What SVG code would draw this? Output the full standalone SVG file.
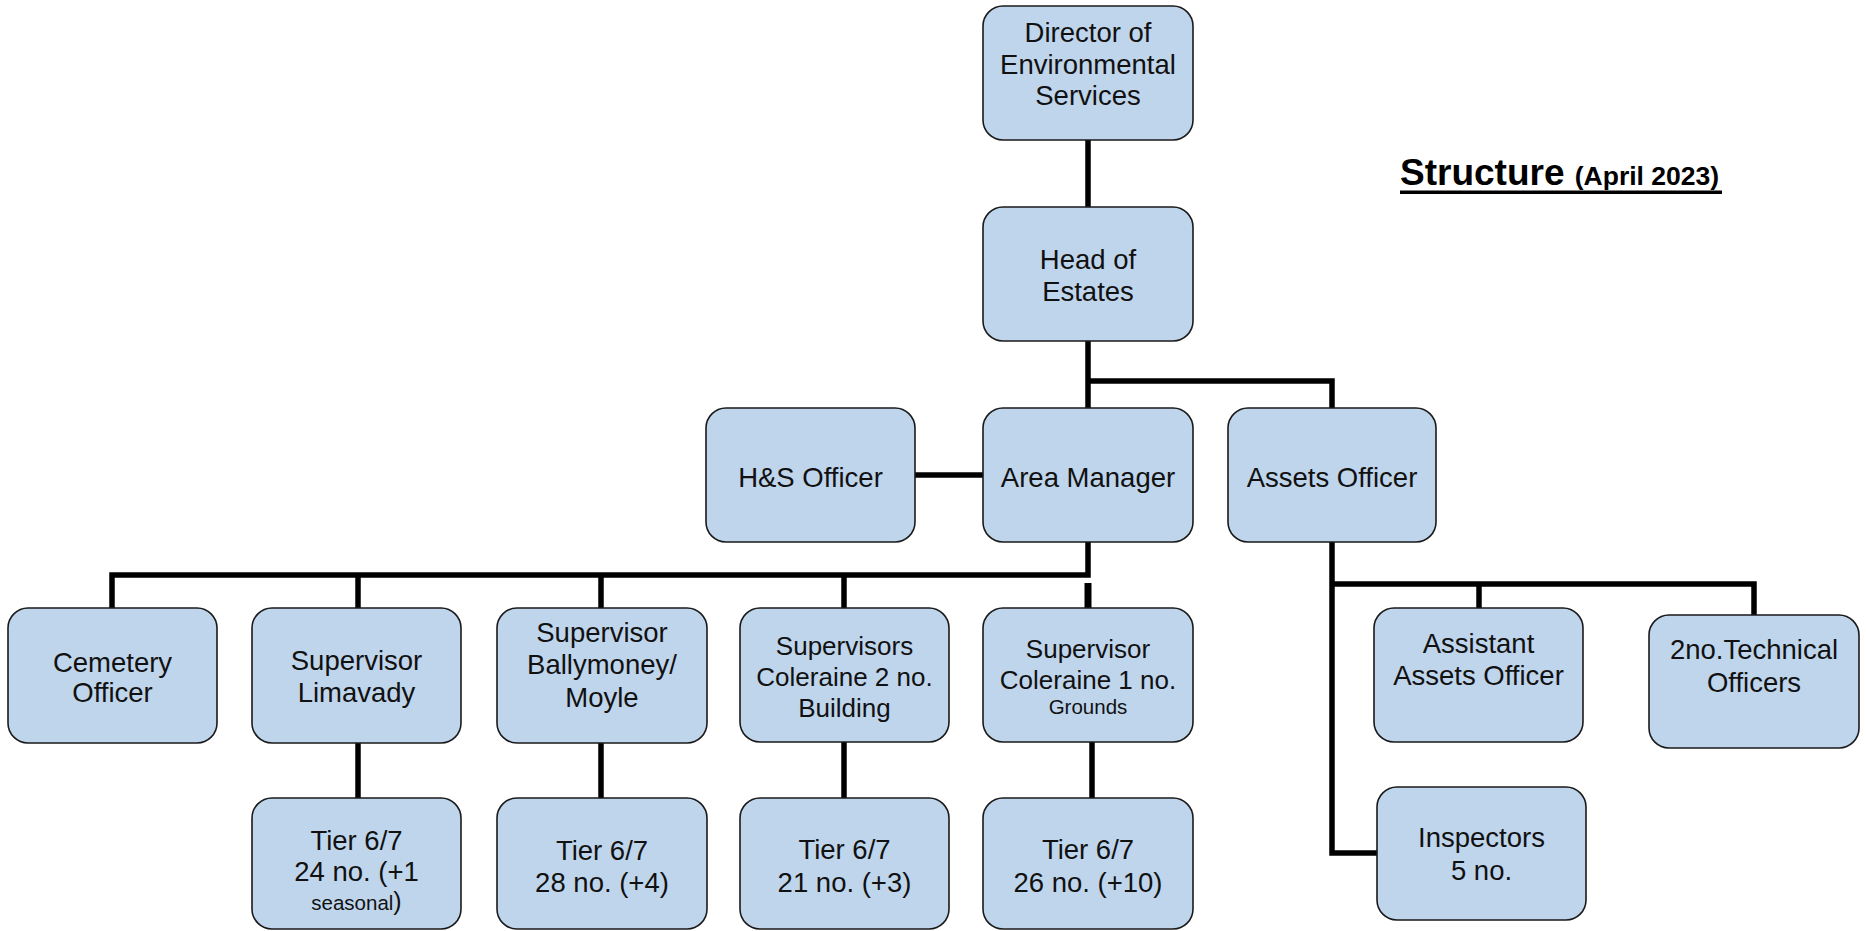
<svg xmlns="http://www.w3.org/2000/svg" width="1866" height="931" viewBox="0 0 1866 931">
<style>
.box{fill:#bfd5ec;stroke:#1a1a1a;stroke-width:1.6}
.t{font-family:"Liberation Sans",Arial,sans-serif;font-size:27.5px;fill:#111;text-anchor:middle}
.m{font-size:26px}
.s{font-size:20.5px}
.c{fill:none;stroke:#000;stroke-width:5.5;stroke-linecap:butt;stroke-linejoin:miter}
.title{font-family:"Liberation Sans",Arial,sans-serif;font-weight:bold;fill:#000}
</style>
<rect width="1866" height="931" fill="#fff"/>
<g id="connectors">
<path class="c" d="M1088 140V207"/>
<path class="c" d="M1088 341V408"/>
<path class="c" d="M1088 381H1332V408"/>
<path class="c" d="M915 475H983"/>
<path class="c" d="M1088 542V575H112V608"/>
<path class="c" d="M358 575V608"/>
<path class="c" d="M601 575V608"/>
<path class="c" d="M844 575V608"/>
<path class="c" style="stroke-width:7" d="M1088 583V608"/>
<path class="c" d="M358 743V798"/>
<path class="c" d="M601 743V798"/>
<path class="c" d="M844 742V798"/>
<path class="c" d="M1092 742V798"/>
<path class="c" d="M1332 542V853H1377"/>
<path class="c" d="M1332 584H1754V615"/>
<path class="c" d="M1479 584V608"/>
</g>
<g id="director"><rect class="box" x="983" y="6" width="210" height="134" rx="20"/>
<text class="t" x="1088" y="41.5">Director of</text><text class="t" x="1088" y="73.5">Environmental</text><text class="t" x="1088" y="104.5">Services</text></g>
<g id="head"><rect class="box" x="983" y="207" width="210" height="134" rx="20"/>
<text class="t" x="1088" y="269">Head of</text><text class="t" x="1088" y="301">Estates</text></g>
<g id="hs"><rect class="box" x="706" y="408" width="209" height="134" rx="20"/>
<text class="t" x="810.5" y="487">H&amp;S Officer</text></g>
<g id="area"><rect class="box" x="983" y="408" width="210" height="134" rx="20"/>
<text class="t" x="1088" y="487">Area Manager</text></g>
<g id="assets"><rect class="box" x="1228" y="408" width="208" height="134" rx="20"/>
<text class="t" x="1332" y="487">Assets Officer</text></g>
<g id="cemetery"><rect class="box" x="8" y="608" width="209" height="135" rx="20"/>
<text class="t" x="112.5" y="671.5">Cemetery</text><text class="t" x="112.5" y="702">Officer</text></g>
<g id="limavady"><rect class="box" x="252" y="608" width="209" height="135" rx="20"/>
<text class="t" x="356.5" y="670">Supervisor</text><text class="t" x="356.5" y="701.5">Limavady</text></g>
<g id="ballymoney"><rect class="box" x="497" y="608" width="210" height="135" rx="20"/>
<text class="t" x="602" y="641.5">Supervisor</text><text class="t" x="602" y="673.5">Ballymoney/</text><text class="t" x="602" y="706.5">Moyle</text></g>
<g id="coleraine2"><rect class="box" x="740" y="608" width="209" height="134" rx="20"/>
<text class="t m" x="844.5" y="655">Supervisors</text><text class="t m" x="844.5" y="685.5">Coleraine 2 no.</text><text class="t m" x="844.5" y="716.5">Building</text></g>
<g id="coleraine1"><rect class="box" x="983" y="608" width="210" height="134" rx="20"/>
<text class="t m" x="1088" y="658">Supervisor</text><text class="t m" x="1088" y="688.5">Coleraine 1 no.</text><text class="t s" x="1088" y="714">Grounds</text></g>
<g id="tier-limavady"><rect class="box" x="252" y="798" width="209" height="131" rx="20"/>
<text class="t" x="356.5" y="850">Tier 6/7</text><text class="t" x="356.5" y="881">24 no. (+1</text><text class="t s" x="356.5" y="910">seasonal<tspan style="font-size:25px">)</tspan></text></g>
<g id="tier-ballymoney"><rect class="box" x="497" y="798" width="210" height="131" rx="20"/>
<text class="t" x="602" y="860">Tier 6/7</text><text class="t" x="602" y="891.5">28 no. (+4)</text></g>
<g id="tier-coleraine2"><rect class="box" x="740" y="798" width="209" height="131" rx="20"/>
<text class="t" x="844.5" y="859">Tier 6/7</text><text class="t" x="844.5" y="891.5">21 no. (+3)</text></g>
<g id="tier-coleraine1"><rect class="box" x="983" y="798" width="210" height="131" rx="20"/>
<text class="t" x="1088" y="859">Tier 6/7</text><text class="t" x="1088" y="891.5">26 no. (+10)</text></g>
<g id="assistant"><rect class="box" x="1374" y="608" width="209" height="134" rx="20"/>
<text class="t" x="1478.5" y="653">Assistant</text><text class="t" x="1478.5" y="685">Assets Officer</text></g>
<g id="technical"><rect class="box" x="1649" y="615" width="210" height="133" rx="20"/>
<text class="t" x="1754" y="659">2no.Technical</text><text class="t" x="1754" y="691.5">Officers</text></g>
<g id="inspectors"><rect class="box" x="1377" y="787" width="209" height="133" rx="20"/>
<text class="t" x="1481.5" y="846.5">Inspectors</text><text class="t" x="1481.5" y="880">5 no.</text></g>
<g id="title">
<text class="title" x="1400" y="185" font-size="37">Structure <tspan font-size="26.5">(April 2023)</tspan></text>
<rect x="1400" y="190.5" width="322" height="3.5" fill="#000"/>
</g>
</svg>
